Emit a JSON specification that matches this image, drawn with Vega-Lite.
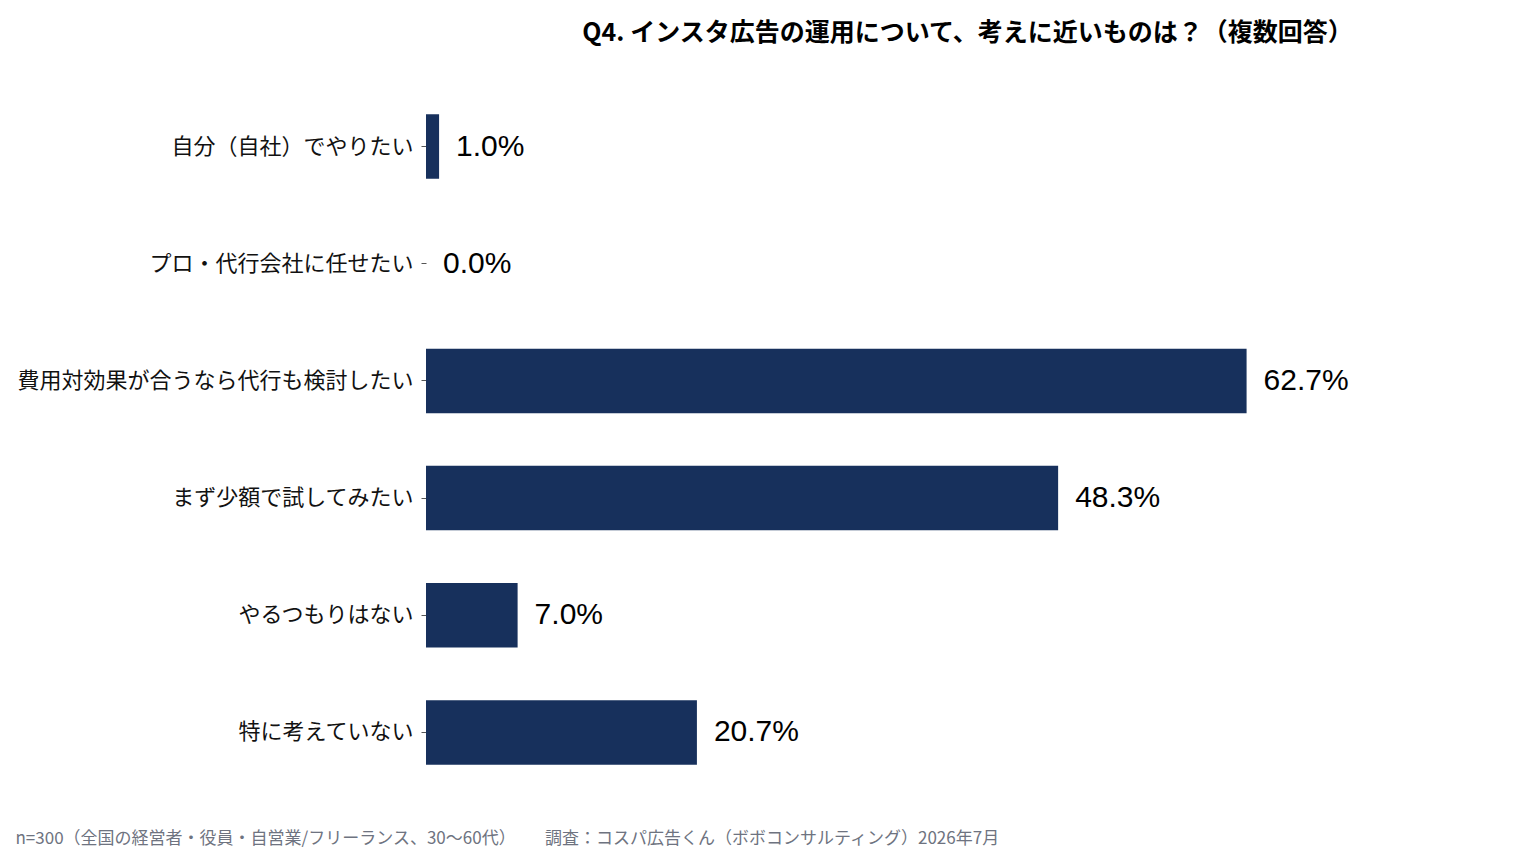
{
  "$schema": "https://vega.github.io/schema/vega-lite/v6.json",
  "autosize": "none",
  "padding": {"left": 426, "top": 88, "right": 63, "bottom": 67},
  "width": 1047,
  "height": 703,
  "background": "white",
  "config": {
    "view": {"stroke": null},
    "font": "Noto Sans CJK JP"
  },
  "title": {
    "text": "Q4. インスタ広告の運用について、考えに近いものは？（複数回答）",
    "fontSize": 25,
    "fontWeight": "bold",
    "color": "#000000",
    "anchor": "middle",
    "dx": 18,
    "offset": 42
  },
  "data": {
    "values": [
      {"option": "自分（自社）でやりたい", "share": 0.010},
      {"option": "プロ・代行会社に任せたい", "share": 0.000},
      {"option": "費用対効果が合うなら代行も検討したい", "share": 0.627},
      {"option": "まず少額で試してみたい", "share": 0.483},
      {"option": "やるつもりはない", "share": 0.070},
      {"option": "特に考えていない", "share": 0.207}
    ]
  },
  "encoding": {
    "y": {
      "field": "option",
      "type": "nominal",
      "sort": null,
      "scale": {"paddingInner": 0.45, "paddingOuter": 0.225},
      "axis": {
        "title": null,
        "domain": false,
        "ticks": true,
        "tickSize": 5,
        "tickColor": "#555555",
        "labelPadding": 8,
        "labelFontSize": 22,
        "labelColor": "#111111",
        "labelLimit": 600
      }
    },
    "x": {
      "field": "share",
      "type": "quantitative",
      "scale": {"domain": [0, 0.8]},
      "axis": {
        "domain": false,
        "ticks": false,
        "labels": false,
        "grid": false,
        "title": "n=300（全国の経営者・役員・自営業/フリーランス、30〜60代）　　 調査：コスパ広告くん（ボボコンサルティング）2026年7月",
        "titleFontSize": 17,
        "titleFontWeight": "normal",
        "titleColor": "#6e7380",
        "titleAlign": "left",
        "titleBaseline": "middle",
        "titleX": -411,
        "titleY": 47
      }
    }
  },
  "layer": [
    {"mark": {"type": "bar", "color": "#17305c"}},
    {
      "mark": {"type": "text", "align": "left", "baseline": "middle", "dx": 17, "fontSize": 30, "font": "Liberation Sans", "color": "#000000"},
      "encoding": {"text": {"field": "share", "type": "quantitative", "format": ".1%"}}
    }
  ]
}
